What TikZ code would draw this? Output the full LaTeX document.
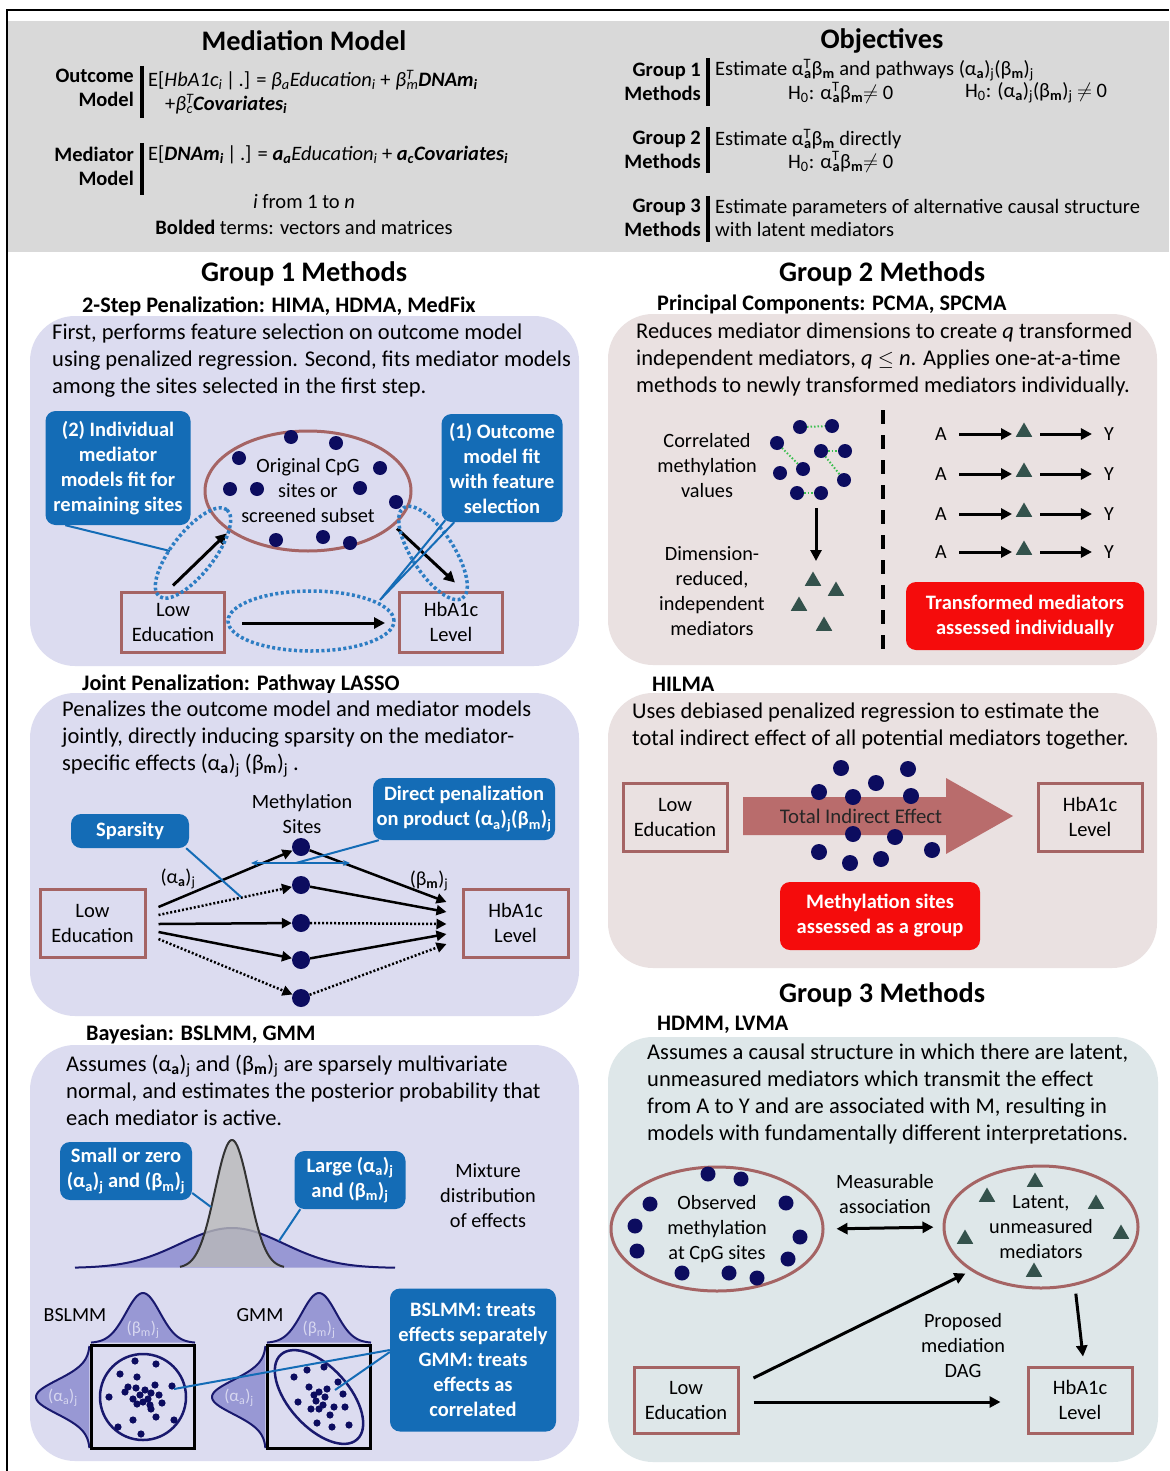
\documentclass[tikz,border=0pt]{standalone}
\usepackage{fontspec}
\setmainfont{Carlito}
\usetikzlibrary{arrows.meta,shapes.geometric,calc}
\definecolor{hdr}{RGB}{217,217,217}
\definecolor{lav}{RGB}{220,220,240}
\definecolor{pnk}{RGB}{234,225,225}
\definecolor{gthr}{RGB}{222,231,233}
\definecolor{brn}{RGB}{165,100,100}
\definecolor{cblue}{RGB}{20,108,182}
\definecolor{dblue}{RGB}{45,125,195}
\definecolor{navy}{RGB}{12,12,95}
\definecolor{trig}{RGB}{52,82,76}
\definecolor{rbox}{RGB}{245,12,12}
\definecolor{bigarr}{RGB}{185,108,108}
\definecolor{dgreen}{RGB}{60,190,80}
\definecolor{curvefill}{RGB}{152,152,212}
\definecolor{curveline}{RGB}{25,25,110}
\definecolor{lbl}{RGB}{215,215,240}
\newcommand{\mysb}[1]{\textsubscript{#1}}
\newcommand{\mysbp}[2]{\textsuperscript{\rlap{#2}}\textsubscript{#1}}
\begin{document}
\begin{tikzpicture}[x=1pt,y=-1pt,
 txt/.style={inner sep=0pt, align=left, anchor=west, font=\fontsize{22.5}{27}\selectfont},
 ctxt/.style={inner sep=0pt, align=center, font=\fontsize{20.3}{25}\selectfont},
 ttl/.style={inner sep=0pt, font=\fontsize{28.3}{32}\selectfont\bfseries},
 subh/.style={inner sep=0pt, anchor=west, font=\fontsize{22.2}{26}\selectfont\bfseries},
 hlab/.style={inner sep=0pt, align=right, anchor=east, font=\fontsize{20.5}{24}\selectfont\bfseries},
 heq/.style={inner sep=0pt, anchor=west, font=\fontsize{20.5}{23}\selectfont},
 hc/.style={inner sep=0pt, font=\fontsize{20.5}{24}\selectfont},
 callout/.style={fill=cblue, rounded corners=10pt, text=white, align=center, font=\fontsize{20.5}{25}\selectfont\bfseries, inner sep=0pt},
 redbox/.style={fill=rbox, rounded corners=10pt, text=white, align=center, font=\fontsize{20.5}{25}\selectfont\bfseries, inner sep=0pt},
 ebox/.style={draw=brn, line width=3pt, align=center, font=\fontsize{20.5}{25}\selectfont, inner sep=0pt},
 mdot/.style={circle, fill=navy, inner sep=0pt, minimum size=18pt},
 tri/.style={regular polygon, regular polygon sides=3, fill=trig, inner sep=0pt, minimum size=19pt},
 arr/.style={line width=3pt, -{Triangle[length=11pt,width=11pt]}},
 sarr/.style={line width=2.5pt, -{Triangle[length=10pt,width=10pt]}},
 darr/.style={line width=2.5pt, dash pattern=on 2pt off 2pt, -{Triangle[length=10pt,width=10pt]}},
 tail/.style={draw=cblue, line width=2pt},
 dotb/.style={draw=dblue, line width=3.5pt, dash pattern=on 3pt off 2.5pt},
 vbar/.style={line width=4pt},
 lab/.style={inner sep=0pt, font=\fontsize{20}{24}\selectfont},
 mlab/.style={inner sep=0pt, text=lbl, font=\fontsize{17}{20}\selectfont},
 glink/.style={draw=dgreen, line width=2pt, dash pattern=on 1.5pt off 2pt}
]
\useasboundingbox (0,0) rectangle (1169,1471);
\fill[white] (0,0) rectangle (1169,1471);
% ---------------- header ----------------
\fill[hdr] (8,21) rectangle (1169,252);
\draw[line width=2.5pt] (7,1471) -- (7,10) -- (1169,10);

\node[ttl] (mmT) at (304,41) {Mediation Model};
\node[hlab] (outL) at (134,88) {Outcome\\Model};
\draw[vbar] (142,66) -- (142,118);
\node[heq] (outE1) at (148,80) {E[\textit{HbA1c\mysb{i}}\,|\,.] = \textit{β\mysb{a}Education\mysb{i}} + \textit{β\mysbp{m}{T}}\textbf{\textit{DNAm\mysb{i}}}};
\node[heq] (outE2) at (165,104) {+\textit{β\mysbp{c}{T}}\textbf{\textit{Covariates\mysb{i}}}};
\node[hlab] (medL) at (134,166) {Mediator\\Model};
\draw[vbar] (142,143) -- (142,195);
\node[heq] (medE) at (148,155) {E[\textbf{\textit{DNAm\mysb{i}}}\,|\,.] = \textbf{\textit{a\mysb{a}}}\textit{Education\mysb{i}} + \textbf{\textit{a\mysb{c}}}\textbf{\textit{Covariates\mysb{i}}}};
\node[hc] (ifrom) at (304,202) {\textit{i} from 1 to \textit{n}};
\node[hc] (bolded) at (304,227) {\textbf{Bolded} terms: vectors and matrices};

\node[ttl] (objT) at (882,41) {Objectives};
\node[hlab] (g1L) at (701,82) {Group 1\\Methods};
\draw[vbar] (708,58) -- (708,106);
\node[heq] (g1a) at (715,70) {Estimate α\mysbp{\textbf{a}}{T}β\mysb{\textbf{m}} and pathways (α\mysb{\textbf{a}})\mysb{j}(β\mysb{\textbf{m}})\mysb{j}};
\node[heq] (g1b) at (788,93) {H\mysb{0}: α\mysbp{\textbf{a}}{T}β\mysb{\textbf{m}}$\neq$ 0};
\node[heq] (g1c) at (965,93) {H\mysb{0}: (α\mysb{\textbf{a}})\mysb{j}(β\mysb{\textbf{m}})\mysb{j} $\neq$ 0};
\node[hlab] (g2L) at (701,150) {Group 2\\Methods};
\draw[vbar] (708,127) -- (708,173);
\node[heq] (g2a) at (715,139) {Estimate α\mysbp{\textbf{a}}{T}β\mysb{\textbf{m}} directly};
\node[heq] (g2b) at (788,162) {H\mysb{0}: α\mysbp{\textbf{a}}{T}β\mysb{\textbf{m}}$\neq$ 0};
\node[hlab] (g3L) at (701,218) {Group 3\\Methods};
\draw[vbar] (708,196) -- (708,242);
\node[heq, align=left] (g3a) at (715,218) {Estimate parameters of alternative causal structure\\with latent mediators};

% ---------------- Group 1: 2-step ----------------
\node[ttl] (g1T) at (304,274) {Group 1 Methods};
\node[subh] (g1H) at (82,306) {2-Step Penalization: HIMA, HDMA, MedFix};
\fill[lav, rounded corners=45pt] (30,316) rectangle (579,666);
\node[txt] (g1t) at (52,361) {First, performs feature selection on outcome model\\using penalized regression. Second, fits mediator models\\among the sites selected in the first step.};
\node[ellipse, draw=brn, line width=3pt, minimum width=206pt, minimum height=120pt, ctxt] (cpg) at (308,491) {Original CpG\\sites or\\screened subset};
\foreach \px/\py in {291/437,336/443,239/458,380/468,230/489,257/489,360/488,396/502,276/540,323/537,350/543}
  \fill[navy] (\px,\py) circle[radius=7pt];
\node[ebox, minimum width=103pt, minimum height=60pt] (le1) at (173,622) {Low\\Education};
\node[ebox, minimum width=103pt, minimum height=60pt] (hb1) at (451,622) {HbA1c\\Level};
\draw[arr, shorten >=3pt] ($(le1.north)+(0,-5)$) -- (cpg.207);
\draw[arr, shorten <=4pt] (cpg.-22) -- ($(hb1.north)+(4,-8)$);
\draw[arr] ($(le1.east)+(16,1)$) -- ($(hb1.west)+(-13,1)$);
\draw[dotb, rotate around={52:(193,553)}] (193,553) ellipse[x radius=55pt, y radius=21pt];
\draw[dotb, rotate around={-57:(433,553)}] (433,553) ellipse[x radius=54pt, y radius=21pt];
\draw[dotb] (311,621) ellipse[x radius=83pt, y radius=30pt];
\node[callout, minimum width=145pt, minimum height=114pt] (c2) at (118,468) {(2) Individual\\mediator\\models fit for\\remaining sites};
\coordinate (t2) at (170,551);
\draw[tail] ($(c2.south west)+(20,0)$) -- (t2);
\node[callout, minimum width=121pt, minimum height=108pt] (c1) at (502,468) {(1) Outcome\\model fit\\with feature\\selection};
\coordinate (t1) at (380,600);
\draw[tail] ($(c1.south west)+(4,-2)$) -- (t1) -- ($(c1.south west)+(13,0)$);

% ---------------- Group 1: joint ----------------
\node[subh] (jpH) at (82,684) {Joint Penalization: Pathway LASSO};
\fill[lav, rounded corners=45pt] (30,693) rectangle (579,1016);
\node[txt] (jpT) at (62,739) {Penalizes the outcome model and mediator models\\jointly, directly inducing sparsity on the mediator-\\specific effects (α\mysb{\textbf{a}})\mysb{j} (β\mysb{\textbf{m}})\mysb{j} .};
\node[ebox, minimum width=105pt, minimum height=68pt] (le2) at (92.5,923) {Low\\Education};
\node[ebox, minimum width=105pt, minimum height=68pt] (hb2) at (515.5,923) {HbA1c\\Level};
\node[ctxt] (msL) at (302,814) {Methylation\\Sites};
\foreach \i/\py in {1/847,2/885,3/923,4/960,5/998}
  \node[mdot] (s\i) at (301,\py) {};
\draw[sarr] ($(le2.east)+(12,-16)$) -- (s1);
\draw[darr] ($(le2.east)+(12,-8)$) -- (s2);
\draw[sarr] ($(le2.east)+(12,1)$) -- (s3);
\draw[sarr] ($(le2.east)+(12,9)$) -- (s4);
\draw[darr] ($(le2.east)+(12,16)$) -- (s5);
\draw[sarr] (s1) -- ($(hb2.west)+(-15,-21)$);
\draw[sarr] (s2) -- ($(hb2.west)+(-15,-11)$);
\draw[darr] (s3) -- ($(hb2.west)+(-15,1)$);
\draw[sarr] (s4) -- ($(hb2.west)+(-15,11)$);
\draw[darr] (s5) -- ($(hb2.west)+(-15,21)$);
\node[lab] (aL) at (178,879) {(α\mysb{\textbf{a}})\mysb{j}};
\node[lab] (bL) at (429,881) {(β\mysb{\textbf{m}})\mysb{j}};
\node[callout, minimum width=118pt, minimum height=34pt] (spc) at (130,831) {Sparsity};
\coordinate (spT) at (241,897);
\draw[tail] ($(spc.south east)+(-3,0)$) -- (spT);
\node[callout, minimum width=182pt, minimum height=62pt] (dpc) at (464,809) {Direct penalization\\on product (α\mysb{a})\mysb{j}(β\mysb{m})\mysb{j}};
\coordinate (dpL) at (251,863);
\coordinate (dpR) at (350,863);
\coordinate (dpM) at (296,863);
\draw[tail, {Stealth[length=7pt,width=6pt]}-{Stealth[length=7pt,width=6pt]}] (dpL) -- (dpR);
\draw[tail] ($(dpc.south west)+(6,0)$) -- (dpM);

% ---------------- Group 1: Bayesian ----------------
\node[subh] (byH) at (86,1034) {Bayesian: BSLMM, GMM};
\fill[lav, rounded corners=45pt] (30,1045) rectangle (579,1461);
\node[txt] (byT) at (66,1090) {Assumes (α\mysb{\textbf{a}})\mysb{j} and (β\mysb{\textbf{m}})\mysb{j} are sparsely multivariate\\normal, and estimates the posterior probability that\\each mediator is active.};
\filldraw[fill=curvefill, draw=curveline, line width=2pt] plot[domain=75:395, samples=90] (\x, {1268-40*exp(-0.5*((\x-232)/52)*((\x-232)/52))});
\filldraw[fill=gray!55, fill opacity=0.8, draw=black!80, line width=2pt] plot[domain=180:284, samples=70] (\x, {1268-128*exp(-0.5*((\x-232)/17)*((\x-232)/17))});
\node[callout, minimum width=132pt, minimum height=58pt] (smc) at (126,1171) {Small or zero\\(α\mysb{a})\mysb{j} and (β\mysb{m})\mysb{j}};
\coordinate (smT) at (211,1207);
\draw[tail] ($(smc.east)+(0,22)$) -- (smT);
\node[callout, minimum width=111pt, minimum height=58pt] (lgc) at (350,1180) {Large (α\mysb{a})\mysb{j}\\and (β\mysb{m})\mysb{j}};
\coordinate (lgT) at (279,1241);
\draw[tail] ($(lgc.south west)+(6,0)$) -- (lgT);
\node[ctxt] (mix) at (488,1196) {Mixture\\distribution\\of effects};
% BSLMM
\node[lab] (bsL) at (75,1315) {BSLMM};
\filldraw[fill=curvefill, draw=curveline, line width=2pt] plot[domain=91:195, samples=60] (\x, {1343-50*exp(-0.5*((\x-143)/17)*((\x-143)/17))});
\filldraw[fill=curvefill, draw=curveline, line width=2pt] plot[domain=1346:1448, samples=60] ({90-54*exp(-0.5*((\x-1397)/17)*((\x-1397)/17))}, \x);
\node[draw, line width=2.5pt, minimum size=103pt, inner sep=0pt] (bx1) at (143,1397) {};
\draw[curveline, line width=2.5pt] (bx1.center) circle[radius=43pt];
\foreach \dx/\dy in {-8/-36,13/-33,-23/-23,-6/-20,-15/-10,-7/-9,2/-7,8/-4,-3/-2,5/2,-10/2,12/-12,0/5,-6/7,7/8,29/-11,-34/0,19/6,8/12,31/23,-10/23,13/20,-25/30,-2/37,-18/-5,16/-2}
  \fill[navy] ($(bx1.center)+(\dx,\dy)$) circle[radius=3.6pt];
\node[mlab] (bsB) at (143,1330) {(β\mysb{m})\mysb{j}};
\node[mlab] (bsA) at (63,1398) {(α\mysb{a})\mysb{j}};
% GMM
\node[lab] (gmL) at (260,1315) {GMM};
\filldraw[fill=curvefill, draw=curveline, line width=2pt] plot[domain=267:371, samples=60] (\x, {1343-50*exp(-0.5*((\x-319)/17)*((\x-319)/17))});
\filldraw[fill=curvefill, draw=curveline, line width=2pt] plot[domain=1346:1448, samples=60] ({266-54*exp(-0.5*((\x-1397)/17)*((\x-1397)/17))}, \x);
\node[draw, line width=2.5pt, minimum size=103pt, inner sep=0pt] (bx2) at (319,1397) {};
\draw[curveline, line width=2.5pt, rotate around={-48:(319,1397)}] (319,1397) ellipse[x radius=57pt, y radius=30pt];
\foreach \dx/\dy in {-25/-20,-12/-27,5/-30,19/-15,-10/-10,0/-5,6/0,-3/4,4/8,-8/12,-21/5,15/10,26/10,11/18,-2/26,13/30,30/28,0/12,-5/-2,8/-8,24/-3}
  \fill[navy] ($(bx2.center)+(\dx,\dy)$) circle[radius=3.6pt];
\node[mlab] (gmB) at (319,1330) {(β\mysb{m})\mysb{j}};
\node[mlab] (gmA) at (239,1398) {(α\mysb{a})\mysb{j}};
\node[callout, minimum width=166pt, minimum height=143pt] (gmc) at (473,1360) {BSLMM: treats\\effects separately\\GMM: treats\\effects as\\correlated};
\coordinate (gtA) at (174,1389);
\coordinate (gtB) at (335,1390);
\draw[tail] ($(gmc.west)+(0,-10)$) -- (gtA);
\draw[tail] ($(gmc.west)+(0,-8)$) -- (gtB);

% ---------------- Group 2: PCA ----------------
\node[ttl] (g2T) at (882,274) {Group 2 Methods};
\node[subh] (g2H) at (657,304) {Principal Components: PCMA, SPCMA};
\fill[pnk, rounded corners=45pt] (608,314) rectangle (1157,665);
\node[txt] (g2t) at (636,359) {Reduces mediator dimensions to create \textit{q} transformed\\independent mediators, \textit{q} $\leq$ \textit{n}. Applies one-at-a-time\\methods to newly transformed mediators individually.};
\node[ctxt] (corrL) at (707,466) {Correlated\\methylation\\values};
\draw[glink] (800,427) -- (832,426);
\draw[glink] (821,451) -- (845,451);
\draw[glink] (777,443) -- (803,469);
\draw[glink] (821,451) -- (844,480);
\draw[glink] (797,493) -- (821,493);
\foreach \px/\py in {800/427,832/426,777/443,821/451,845/451,780/473,803/469,844/480,797/493,821/493}
  \fill[navy] (\px,\py) circle[radius=7pt];
\coordinate (vaTop) at (816,508);
\coordinate (vaBot) at (816,561);
\draw[arr] (vaTop) -- (vaBot);
\node[tri] (pt1) at (813,581) {};
\node[tri] (pt2) at (836,591) {};
\node[tri] (pt3) at (799,606) {};
\node[tri] (pt4) at (824,626) {};
\node[ctxt] (dimL) at (712,591) {Dimension-\\reduced,\\independent\\mediators};
\draw[line width=3.5pt, dash pattern=on 14pt off 11pt] (883,410) -- (883,652);
\foreach \i/\py in {1/434,2/474,3/514,4/552}{
  \node[inner sep=0pt, font=\fontsize{20}{24}\selectfont] (ra\i) at (941,\py) {A};
  \node[tri] (rm\i) at (1024,\py-2) {};
  \node[inner sep=0pt, font=\fontsize{20}{24}\selectfont] (ry\i) at (1109,\py) {Y};
  \draw[arr, shorten <=12pt, shorten >=12pt] (ra\i) -- (ra\i -| rm\i);
  \draw[arr, shorten <=16pt, shorten >=12pt] (ra\i -| rm\i) -- (ry\i);
}
\node[redbox, minimum width=238pt, minimum height=68pt] (g2R) at (1025,616) {Transformed mediators\\assessed individually};

% ---------------- Group 2: HILMA ----------------
\node[subh] (hlH) at (652,684) {HILMA};
\fill[pnk, rounded corners=45pt] (608,693) rectangle (1157,968);
\node[txt] (hlT) at (632,726) {Uses debiased penalized regression to estimate the\\total indirect effect of all potential mediators together.};
\node[ebox, minimum width=104pt, minimum height=68pt] (le4) at (675,817) {Low\\Education};
\node[ebox, minimum width=104pt, minimum height=68pt] (hb4) at (1090,817) {HbA1c\\Level};
\fill[bigarr] (743,797) -- (946,797) -- (946,778) -- (1013,816) -- (946,854) -- (946,835) -- (743,835) -- cycle;
\foreach \px/\py in {841/768,908/769,876/783,819/792,853/797,911/796,853/834,895/837,819/852,850/863,881/859,932/850}
  \fill[navy] (\px,\py) circle[radius=8pt];
\node[ctxt, font=\fontsize{20.8}{24}\selectfont, text=black!85] (tie) at (861,816) {Total Indirect Effect};
\node[redbox, minimum width=200pt, minimum height=68pt] (hlR) at (880,916) {Methylation sites\\assessed as a group};

% ---------------- Group 3 ----------------
\node[ttl] (g3T) at (882,995) {Group 3 Methods};
\node[subh] (g3H) at (657,1025) {HDMM, LVMA};
\fill[gthr, rounded corners=45pt] (608,1037) rectangle (1158,1462);
\node[txt] (g3t) at (647,1094) {Assumes a causal structure in which there are latent,\\unmeasured mediators which transmit the effect\\from A to Y and are associated with M, resulting in\\models with fundamentally different interpretations.};
\node[ellipse, draw=brn, line width=3pt, minimum width=212pt, minimum height=124pt, ctxt] (obs) at (717,1229) {Observed\\methylation\\at CpG sites};
\foreach \px/\py in {708/1174,741/1179,650/1204,786/1203,635/1226,800/1237,637/1251,788/1259,682/1273,729/1273,757/1278}
  \fill[navy] (\px,\py) circle[radius=7.5pt];
\node[ellipse, draw=brn, line width=3pt, minimum width=194pt, minimum height=122pt, ctxt] (lat) at (1041,1227) {Latent,\\unmeasured\\mediators};
\foreach \i/\px/\py in {1/1035/1182,2/987/1197,3/1096/1204,4/965/1239,5/1121/1234,6/1034/1272}
  \node[tri] (lt\i) at (\px,\py) {};
\draw[arr, {Triangle[length=11pt,width=11pt]}-{Triangle[length=11pt,width=11pt]}, shorten <=12pt, shorten >=9pt] (obs.east) -- (lat.west);
\node[ctxt] (measL) at (885,1194) {Measurable\\association};
\node[ebox, minimum width=104pt, minimum height=66pt] (le6) at (686,1400) {Low\\Education};
\node[ebox, minimum width=104pt, minimum height=66pt] (hb6) at (1080,1400) {HbA1c\\Level};
\draw[arr, shorten >=6pt] ($(le6.east)+(14,-22)$) -- (lat.212);
\draw[arr, shorten <=8pt] (lat.-60) -- ($(hb6.north)+(3,-9)$);
\draw[arr] ($(le6.east)+(14,2)$) -- ($(hb6.west)+(-26,2)$);
\node[ctxt] (dagL) at (963,1346) {Proposed\\mediation\\DAG};
\end{tikzpicture}
\end{document}
